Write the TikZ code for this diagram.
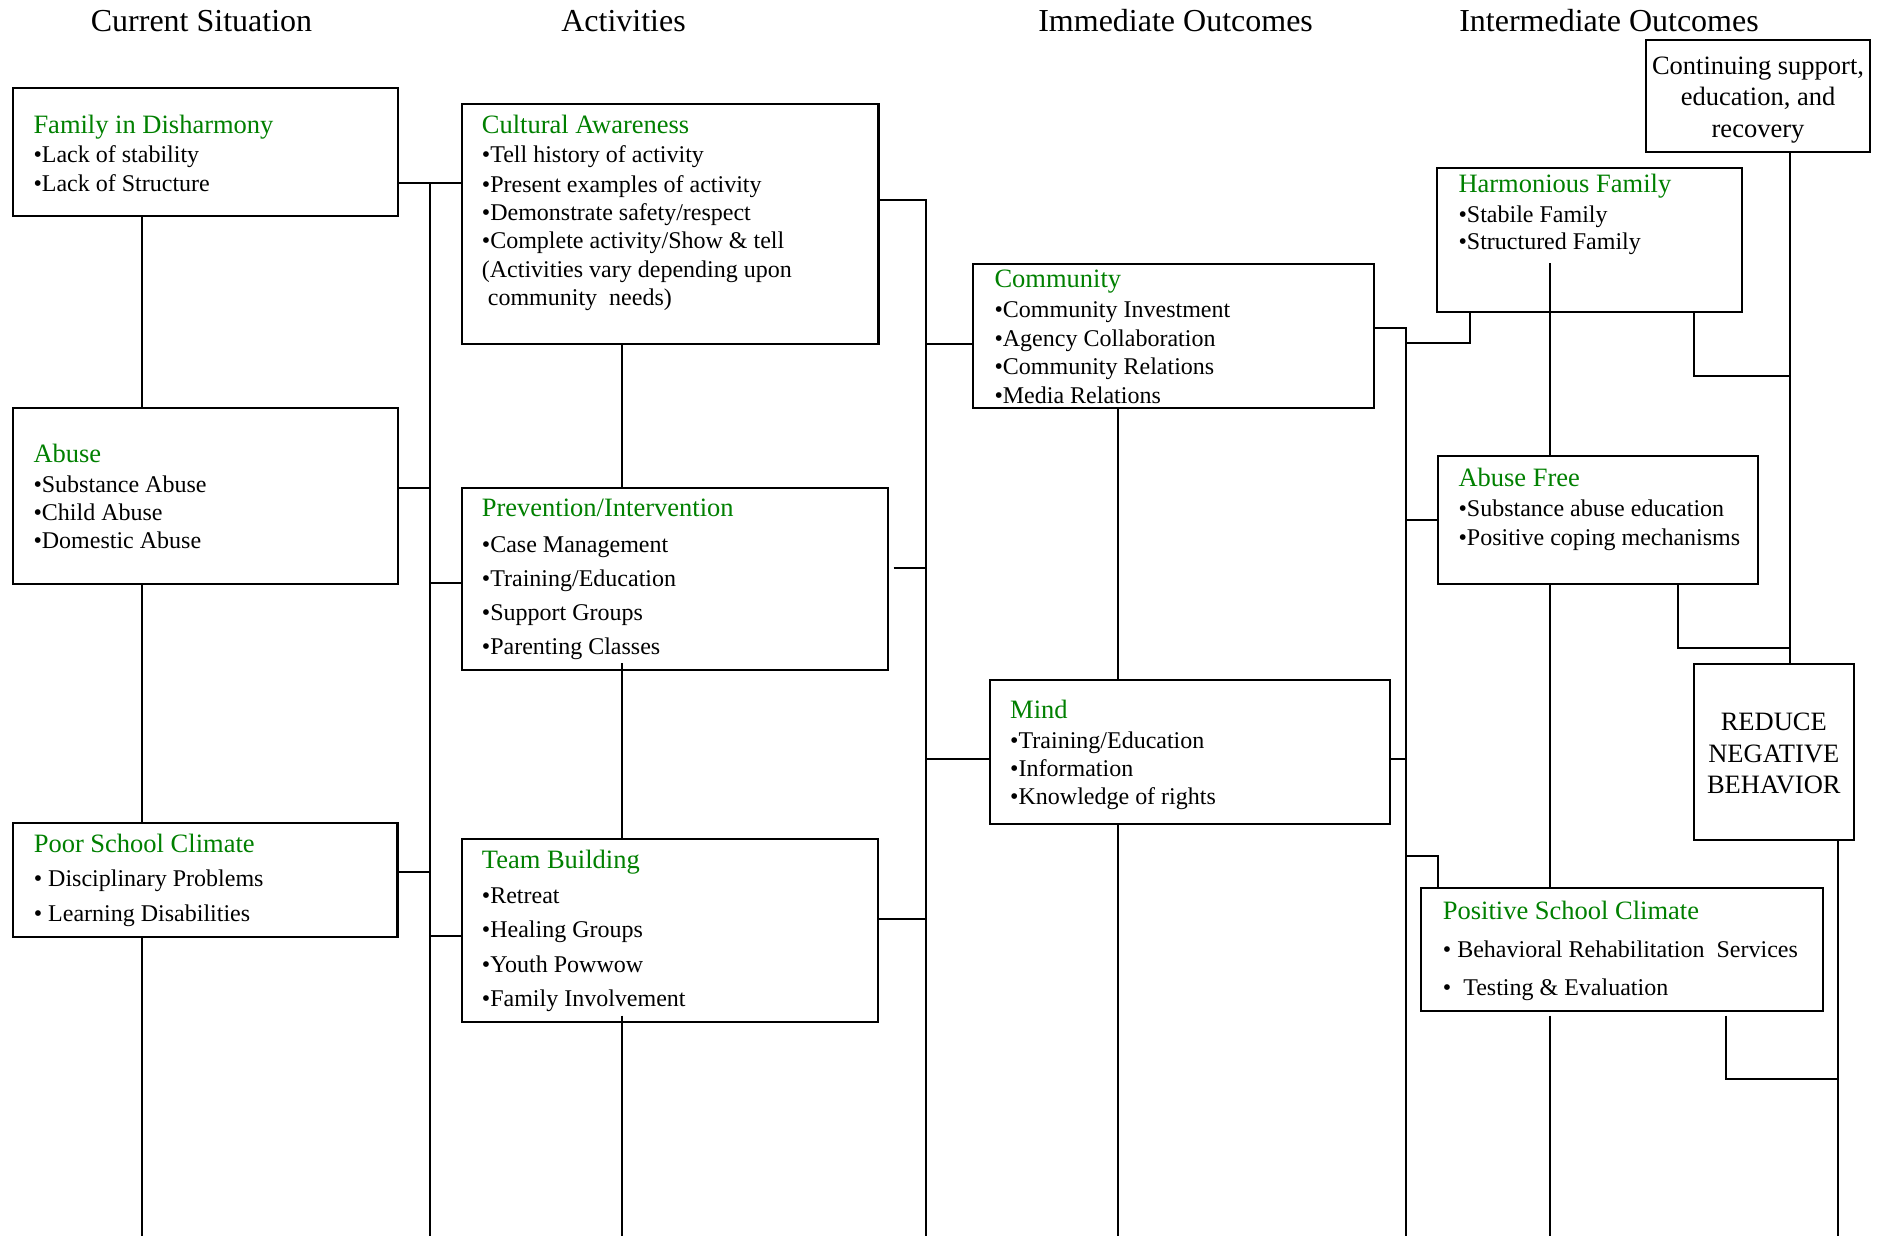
\documentclass[tikz,border=0pt]{standalone}
\usepackage{fontspec}
\setmainfont{Liberation Serif}
\definecolor{ttlgreen}{RGB}{0,128,0}
\tikzset{
  box/.style={draw, line width=2.2pt, fill=white, inner sep=0pt, outer sep=0pt, anchor=north west},
  ttl/.style={anchor=base west, inner sep=0pt, text=ttlgreen, font=\fontsize{26.5}{30}\selectfont},
  bl/.style={anchor=base west, inner sep=0pt, font=\fontsize{24}{28}\selectfont},
  hdr/.style={anchor=base, inner sep=0pt, font=\fontsize{32}{36}\selectfont},
  ctr/.style={anchor=base, inner sep=0pt, font=\fontsize{26.5}{30}\selectfont},
  conn/.style={line width=1.8pt},
}
\begin{document}
\begin{tikzpicture}[x=1pt,y=-1pt]
\useasboundingbox (0,0) rectangle (1883,1236);
\fill[white] (0,0) rectangle (1883,1236);

% headers
\node[hdr] (h1) at (201.5,31.2) {Current Situation};
\node[hdr] (h2) at (623.5,31.2) {Activities};
\node[hdr] (h3) at (1175.6,31.2) {Immediate Outcomes};
\node[hdr] (h4) at (1609,31.2) {Intermediate Outcomes};

% boxes
\node[box, minimum width=384.7pt, minimum height=128.3pt] (fam) at (13.3,87.7) {};
\node[box, minimum width=384.7pt, minimum height=176pt] (abuse) at (13.3,408) {};
\node[box, minimum width=384.2pt, minimum height=113.4pt] (poor) at (13.3,823.3) {};
\node[box, minimum width=416.8pt, minimum height=240pt] (cult) at (461.7,103.7) {};
\node[box, minimum width=425.9pt, minimum height=182pt] (prev) at (461.7,487.7) {};
\node[box, minimum width=415.6pt, minimum height=182.4pt] (team) at (462.3,839.3) {};
\node[box, minimum width=401pt, minimum height=144pt] (comm) at (973.3,263.7) {};
\node[box, minimum width=400.6pt, minimum height=144pt] (mind) at (989.7,679.7) {};
\node[box, minimum width=224.6pt, minimum height=112pt] (cont) at (1645.7,40) {};
\node[box, minimum width=305pt, minimum height=144pt] (harm) at (1437.3,167.7) {};
\node[box, minimum width=320.6pt, minimum height=128.3pt] (afree) at (1437.7,455.7) {};
\node[box, minimum width=160.3pt, minimum height=176.3pt] (reduce) at (1693.7,663.7) {};
\node[box, minimum width=401.7pt, minimum height=123pt] (pos) at (1421,887.7) {};

% bus coordinates
\coordinate (b1) at (141.8,1236);
\coordinate (b2) at (429.7,1236);
\coordinate (b3) at (622,1236);
\coordinate (b4) at (925.8,1236);
\coordinate (b5) at (1118,1236);
\coordinate (b6) at (1406,1236);
\coordinate (b7) at (1550,1236);
\coordinate (b8) at (1790,1236);
\coordinate (b9) at (1837.7,1236);
\coordinate (prevstub) at (893.7,567.7);
\coordinate (posstub) at (1725.7,1015.7);

% column 1
\draw[conn] (fam.south -| b1) -- (abuse.north -| b1);
\draw[conn] (abuse.south -| b1) -- (poor.north -| b1);
\draw[conn] (poor.south -| b1) -- (b1);
% bus 2
\draw[conn] (b2 |- 0,183.3) -- (b2);
\draw[conn] (fam.east |- 0,183.3) -- (cult.west |- 0,183.3);
\draw[conn] (abuse.east |- 0,487.7) -- (b2 |- 0,487.7);
\draw[conn] (b2 |- 0,583.3) -- (prev.west |- 0,583.3);
\draw[conn] (poor.east |- 0,871.7) -- (b2 |- 0,871.7);
\draw[conn] (b2 |- 0,935.7) -- (team.west |- 0,935.7);
% column 3
\draw[conn] (cult.south -| b3) -- (prev.north -| b3);
\draw[conn] (b3 |- 0,663.3) -- (team.north -| b3);
\draw[conn] (b3 |- 0,1015.7) -- (b3);
% bus 4
\draw[conn] (cult.east |- 0,200) -- (b4 |- 0,200) -- (b4);
\draw[conn] (b4 |- 0,343.7) -- (comm.west |- 0,343.7);
\draw[conn] (prevstub) -- (b4 |- prevstub);
\draw[conn] (b4 |- 0,759.3) -- (mind.west |- 0,759.3);
\draw[conn] (team.east |- 0,919.3) -- (b4 |- 0,919.3);
% column 5
\draw[conn] (comm.south -| b5) -- (mind.north -| b5);
\draw[conn] (mind.south -| b5) -- (b5);
% bus 6
\draw[conn] (comm.east |- 0,327.7) -- (b6 |- 0,327.7) -- (b6);
\draw[conn] (b6 |- 0,343.3) -| (harm.south -| 1469.7,0);
\draw[conn] (b6 |- 0,519.7) -- (afree.west |- 0,519.7);
\draw[conn] (mind.east |- 0,759.3) -- (b6 |- 0,759.3);
\draw[conn] (b6 |- 0,855.7) -| (pos.north -| 1438,0);
% column 7
\draw[conn] (b7 |- 0,263.3) -- (afree.north -| b7);
\draw[conn] (afree.south -| b7) -- (pos.north -| b7);
\draw[conn] (b7 |- 0,1015.7) -- (b7);
% right side
\draw[conn] (cont.south -| b8) -- (reduce.north -| b8);
\draw[conn] (harm.south -| 1694,0) |- (b8 |- 0,376);
\draw[conn] (afree.south -| 1677.7,0) |- (b8 |- 0,647.7);
\draw[conn] (reduce.south -| b9) -- (b9);
\draw[conn] (posstub) |- (b9 |- 0,1079.3);

% texts: Family in Disharmony
\node[ttl] (famT) at (33.3,133.2) {Family in Disharmony};
\node[bl] (fam1) at (33.3,162.8) {•Lack of stability};
\node[bl] (fam2) at (33.3,191.2) {•Lack of Structure};
% Abuse
\node[ttl] (abT) at (33.3,462.2) {Abuse};
\node[bl] (ab1) at (33.3,492.2) {•Substance Abuse};
\node[bl] (ab2) at (33.3,520.5) {•Child Abuse};
\node[bl] (ab3) at (33.3,548.8) {•Domestic Abuse};
% Poor School Climate
\node[ttl] (poT) at (33.6,852.2) {Poor School Climate};
\node[bl] (po1) at (33.6,886.5) {• Disciplinary Problems};
\node[bl] (po2) at (33.6,921.2) {• Learning Disabilities};
% Cultural Awareness
\node[ttl] (cuT) at (481.7,133.2) {Cultural Awareness};
\node[bl] (cu1) at (481.7,162.8) {•Tell history of activity};
\node[bl] (cu2) at (481.7,192.2) {•Present examples of activity};
\node[bl] (cu3) at (481.7,220.5) {•Demonstrate safety/respect};
\node[bl] (cu4) at (481.7,248.8) {•Complete activity/Show \& tell};
\node[bl] (cu5) at (481.7,277.8) {(Activities vary depending upon};
\node[bl] (cu6) at (487.7,305.5) {community\ \ needs)};
% Prevention/Intervention
\node[ttl] (prT) at (481.7,516.5) {Prevention/Intervention};
\node[bl] (pr1) at (481.7,552.2) {•Case Management};
\node[bl] (pr2) at (481.7,586.2) {•Training/Education};
\node[bl] (pr3) at (481.7,620.5) {•Support Groups};
\node[bl] (pr4) at (481.7,654.5) {•Parenting Classes};
% Team Building
\node[ttl] (tbT) at (481.7,868.8) {Team Building};
\node[bl] (tb1) at (481.7,903.8) {•Retreat};
\node[bl] (tb2) at (481.7,937.8) {•Healing Groups};
\node[bl] (tb3) at (481.7,972.2) {•Youth Powwow};
\node[bl] (tb4) at (481.7,1006.2) {•Family Involvement};
% Community
\node[ttl] (coT) at (994.3,287.2) {Community};
\node[bl] (co1) at (994.3,317.8) {•Community Investment};
\node[bl] (co2) at (994.3,346.5) {•Agency Collaboration};
\node[bl] (co3) at (994.3,374.8) {•Community Relations};
\node[bl] (co4) at (994.3,403.2) {•Media Relations};
% Mind
\node[ttl] (miT) at (1010,718.8) {Mind};
\node[bl] (mi1) at (1010,748.2) {•Training/Education};
\node[bl] (mi2) at (1010,776.5) {•Information};
\node[bl] (mi3) at (1010,804.8) {•Knowledge of rights};
% Continuing support
\node[ctr] (ct1) at (1758,74.5) {Continuing support,};
\node[ctr] (ct2) at (1758,105.5) {education, and};
\node[ctr] (ct3) at (1758,137.2) {recovery};
% Harmonious Family
\node[ttl] (haT) at (1458.3,192.2) {Harmonious Family};
\node[bl] (ha1) at (1458.3,222.2) {•Stabile Family};
\node[bl] (ha2) at (1458.3,249.8) {•Structured Family};
% Abuse Free
\node[ttl] (afT) at (1458.3,486.5) {Abuse Free};
\node[bl] (af1) at (1458.3,516.5) {•Substance abuse education};
\node[bl] (af2) at (1458.3,545.5) {•Positive coping mechanisms};
% Reduce
\node[ctr] (rd1) at (1773.8,730.5) {REDUCE};
\node[ctr] (rd2) at (1773.8,762.2) {NEGATIVE};
\node[ctr] (rd3) at (1773.8,793.8) {BEHAVIOR};
% Positive School Climate
\node[ttl] (psT) at (1442.7,919.8) {Positive School Climate};
\node[bl] (ps1) at (1442.7,957.8) {•\ Behavioral Rehabilitation\ \ Services};
\node[bl] (ps2) at (1442.7,995.5) {•\ \ Testing \& Evaluation};
\end{tikzpicture}
\end{document}
